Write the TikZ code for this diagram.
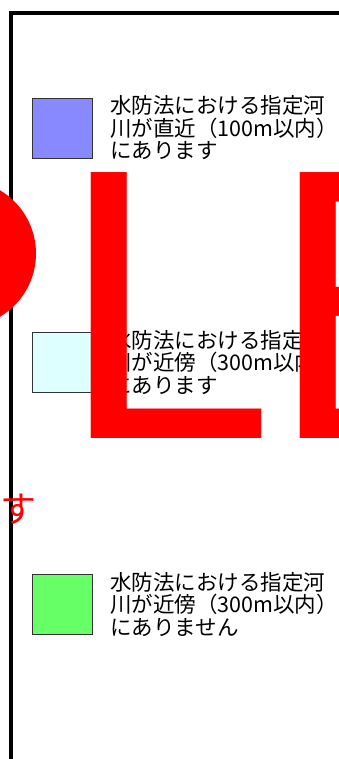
\documentclass[tikz,border=0pt]{standalone}
\usepackage{fontspec}
\newfontfamily\jpfont{Noto Sans CJK JP}
\newfontfamily\markfont{Liberation Sans}
\definecolor{riverblue}{RGB}{136,136,255}
\definecolor{rivercyan}{RGB}{221,255,255}
\definecolor{rivergreen}{RGB}{102,255,102}
\definecolor{boxline}{RGB}{51,51,51}
\tikzset{
  keybox/.style={draw=boxline, line width=1pt, minimum size=60pt, inner sep=0pt, anchor=north west},
  keytext/.style={anchor=base west, inner sep=0pt, align=left,
    font=\jpfont\fontsize{21.5}{22.5}\selectfont},
  markred/.style={text=red, inner sep=0pt}
}
\begin{document}
\begin{tikzpicture}[x=1pt,y=-1pt]
\useasboundingbox (0,0) rectangle (339,759);
\draw[line width=3.8pt] (11,759) -- (11,13) -- (339,13);
\node[keybox, fill=riverblue] (sq1) at (32,98){};
\node[keytext] (lb1) at (110,159){水防法における指定河\\川が直近（100m以内）\\にあります};
\node[keybox, fill=rivercyan] (sq2) at (32,332){};
\node[keytext] (lb2) at (110,393){水防法における指定河\\川が近傍（300m以内）\\にあります};
\node[keybox, fill=rivergreen] (sq3) at (32,574){};
\node[keytext] (lb3) at (110,635){水防法における指定河\\川が近傍（300m以内）\\にありません};
\node[circle, fill=red, minimum size=147pt, inner sep=0pt] (dot) at (-37.5,253.5){};
\node[markred, anchor=base west, font=\markfont\fontsize{386.6}{400}\selectfont] (mark) at (58.8,438){L\kern-5.5pt E};
\node[markred, font=\jpfont\fontsize{36}{40}\selectfont] (marksu) at (19,509){す};
\end{tikzpicture}
\end{document}
